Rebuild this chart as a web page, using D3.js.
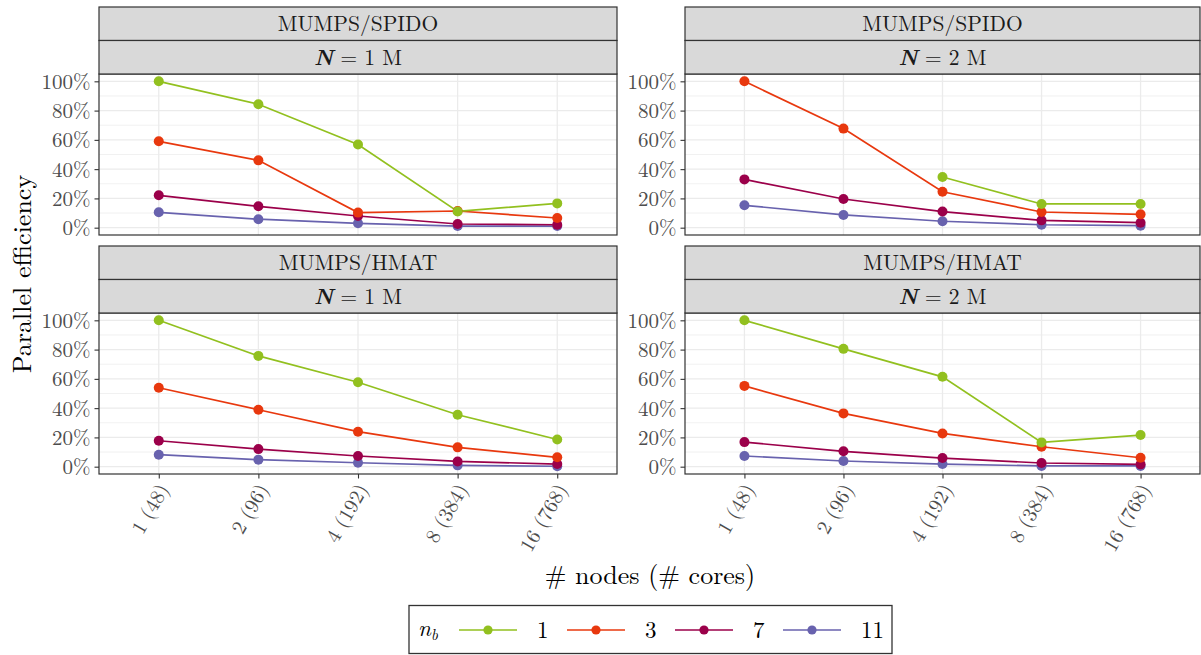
<!DOCTYPE html>
<html>
<head>
<meta charset="utf-8">
<script src="https://cdn.jsdelivr.net/npm/d3@7"></script>
<style>
  body { margin: 0; background: #fff; }
</style>
</head>
<body>
<svg id="chart" width="1201" height="655"></svg>
<script>
// ---------- data ----------
const categories = ["1 (48)", "2 (96)", "4 (192)", "8 (384)", "16 (768)"];
const solvers = ["MUMPS/SPIDO", "MUMPS/HMAT"];
const sizes = ["1", "2"];
const nbLevels = ["1", "3", "7", "11"];
const nbColors = ["#92c01f", "#e8380e", "#9b004a", "#6862ae"];
const yTicks = [0, 0.2, 0.4, 0.6, 0.8, 1.0];
const yMinor = [0.1, 0.3, 0.5, 0.7, 0.9];

// parallel efficiency (%), per panel and n_b
const spido1M_nb1  = [100, 84.3, 56.8, 11.1, 16.6];
const spido1M_nb3  = [59.0, 46.0, 10.3, 11.4, 6.6];
const spido1M_nb7  = [22.1, 14.6, 8.0, 2.5, 2.0];
const spido1M_nb11 = [10.5, 5.8, 3.0, 1.1, 1.1];

const spido2M_nb1  = [null, null, 34.6, 16.2, 16.2];
const spido2M_nb3  = [100, 67.7, 24.5, 10.7, 9.1];
const spido2M_nb7  = [33.0, 19.6, 11.0, 5.0, 3.4];
const spido2M_nb11 = [15.3, 8.7, 4.4, 2.0, 1.4];

const hmat1M_nb1  = [100, 75.7, 57.7, 35.5, 18.6];
const hmat1M_nb3  = [53.9, 38.9, 23.9, 13.2, 6.4];
const hmat1M_nb7  = [17.7, 12.0, 7.3, 3.6, 1.8];
const hmat1M_nb11 = [8.2, 4.8, 2.7, 0.9, 0.3];

const hmat2M_nb1  = [100, 80.5, 61.4, 16.6, 21.6];
const hmat2M_nb3  = [55.2, 36.4, 22.7, 13.6, 6.1];
const hmat2M_nb7  = [16.8, 10.5, 5.9, 2.5, 1.6];
const hmat2M_nb11 = [7.3, 3.9, 1.8, 0.5, 0.5];

const panelSeries = [
  [[spido1M_nb1, spido1M_nb3, spido1M_nb7, spido1M_nb11],
   [spido2M_nb1, spido2M_nb3, spido2M_nb7, spido2M_nb11]],
  [[hmat1M_nb1, hmat1M_nb3, hmat1M_nb7, hmat1M_nb11],
   [hmat2M_nb1, hmat2M_nb3, hmat2M_nb7, hmat2M_nb11]]
];

// ---------- layout ----------
const FONT = '"Latin Modern Roman", "CMU Serif", "Liberation Serif", serif';
const svg = d3.select("#chart");
const colX = [99, 685];
const colW = [518, 515];
const rowTop = [7, 246];
const stripH = 33.5;
const panelH = 161;
const ink = "#333333";

const color = d3.scaleOrdinal().domain(nbLevels).range(nbColors);

solvers.forEach((solver, r) => {
  sizes.forEach((size, c) => {
    const x0 = colX[c], w = colW[c];
    const sTop = rowTop[r];
    const pTop = sTop + 2 * stripH;
    const pBot = pTop + panelH;
    const g = svg.append("g");

    const x = d3.scalePoint().domain(categories).range([x0, x0 + w]).padding(0.6);
    const y = d3.scaleLinear().domain([-0.05, 1.05]).range([pBot, pTop]);

    // panel background + grid
    g.append("rect").attr("x", x0).attr("y", pTop).attr("width", w).attr("height", panelH).attr("fill", "#fff");
    g.selectAll(".minor").data(yMinor).join("line")
      .attr("x1", x0).attr("x2", x0 + w).attr("y1", d => y(d)).attr("y2", d => y(d))
      .attr("stroke", "#ebebeb").attr("stroke-width", 0.7);
    g.selectAll(".major").data(yTicks).join("line")
      .attr("x1", x0).attr("x2", x0 + w).attr("y1", d => y(d)).attr("y2", d => y(d))
      .attr("stroke", "#ebebeb").attr("stroke-width", 1.3);
    g.selectAll(".vmajor").data(categories).join("line")
      .attr("x1", d => x(d)).attr("x2", d => x(d)).attr("y1", pTop).attr("y2", pBot)
      .attr("stroke", "#ebebeb").attr("stroke-width", 1.3);

    // lines (drawn first), then points, series in reverse order
    const series = panelSeries[r][c];
    const order = [3, 2, 1, 0];
    const line = d3.line()
      .defined(d => d.v !== null)
      .x(d => x(d.cat)).y(d => y(d.v / 100));
    order.forEach(k => {
      const pts = categories.map((cat, i) => ({ cat, v: series[k][i] }));
      g.append("path").datum(pts).attr("d", line)
        .attr("fill", "none").attr("stroke", color(nbLevels[k])).attr("stroke-width", 1.7);
    });
    order.forEach(k => {
      const pts = categories.map((cat, i) => ({ cat, v: series[k][i] })).filter(d => d.v !== null);
      g.selectAll(null).data(pts).join("circle")
        .attr("cx", d => x(d.cat)).attr("cy", d => y(d.v / 100)).attr("r", 5)
        .attr("fill", color(nbLevels[k]));
    });

    // panel border
    g.append("rect").attr("x", x0).attr("y", pTop).attr("width", w).attr("height", panelH)
      .attr("fill", "none").attr("stroke", ink).attr("stroke-width", 1.2);

    // strips
    [0, 1].forEach(s => {
      g.append("rect").attr("x", x0).attr("y", sTop + s * stripH).attr("width", w).attr("height", stripH)
        .attr("fill", "#d9d9d9").attr("stroke", ink).attr("stroke-width", 1.2);
    });
    g.append("text").attr("x", x0 + w / 2).attr("y", sTop + stripH / 2 + 7.5)
      .attr("text-anchor", "middle").attr("font-size", 21.5).attr("fill", "#1a1a1a")
      .style("font-family", FONT).text(solver);
    const t2 = g.append("text").attr("x", x0 + w / 2).attr("y", sTop + stripH * 1.5 + 7.5)
      .attr("text-anchor", "middle").attr("font-size", 21.5).attr("fill", "#1a1a1a")
      .style("font-family", FONT);
    t2.append("tspan").attr("font-weight", "bold").attr("font-style", "italic").text("N");
    t2.append("tspan").text(" = " + size + " M");

    // y axis
    const yAxis = d3.axisLeft(y).tickValues(yTicks).tickFormat(d3.format(".0%")).tickSize(4.5).tickPadding(4);
    const ya = g.append("g").attr("transform", `translate(${x0},0)`).call(yAxis);
    ya.select(".domain").remove();
    ya.selectAll("line").attr("stroke", ink).attr("stroke-width", 1.1);
    ya.selectAll("text").attr("font-size", 21).attr("fill", "#4d4d4d")
      .style("font-family", FONT).attr("dy", "0.33em");

    // x axis on bottom row only
    if (r === 1) {
      const xAxis = d3.axisBottom(x).tickSize(4.5).tickPadding(0);
      const xa = g.append("g").attr("transform", `translate(0,${pBot})`).call(xAxis);
      xa.select(".domain").remove();
      xa.selectAll("line").attr("stroke", ink).attr("stroke-width", 1.1);
      xa.selectAll("text")
        .attr("font-size", 20.5).attr("fill", "#4d4d4d").style("font-family", FONT)
        .attr("text-anchor", "end").attr("x", 0).attr("y", 0).attr("dy", "0.3em")
        .attr("transform", "translate(5,12) rotate(-60)");
    }
  });
});

// axis titles
svg.append("text").attr("transform", "translate(31,274) rotate(-90)")
  .attr("text-anchor", "middle").attr("font-size", 26).attr("fill", "#000")
  .style("font-family", FONT).text("Parallel efficiency");
svg.append("text").attr("x", 650).attr("y", 584)
  .attr("text-anchor", "middle").attr("font-size", 26).attr("fill", "#000")
  .style("font-family", FONT).text("# nodes (# cores)");

// legend
const lg = svg.append("g");
lg.append("rect").attr("x", 409).attr("y", 605.5).attr("width", 483).attr("height", 48)
  .attr("fill", "#fff").attr("stroke", ink).attr("stroke-width", 1.3);
const lt = lg.append("text").attr("x", 418).attr("y", 636).attr("font-size", 23)
  .attr("font-style", "italic").style("font-family", FONT);
lt.append("tspan").text("n");
lt.append("tspan").attr("font-size", 15).attr("dy", 4).text("b");
const keyX = d3.scalePoint().domain(nbLevels).range([459, 783]);
nbLevels.forEach(lv => {
  const kx = keyX(lv);
  lg.append("line").attr("x1", kx).attr("x2", kx + 58).attr("y1", 630).attr("y2", 630)
    .attr("stroke", color(lv)).attr("stroke-width", 1.7);
  lg.append("circle").attr("cx", kx + 29).attr("cy", 630).attr("r", 4.6).attr("fill", color(lv));
  lg.append("text").attr("x", kx + 78).attr("y", 638).attr("font-size", 23).attr("fill", "#000")
    .style("font-family", FONT).text(lv);
});
</script>
</body>
</html>
